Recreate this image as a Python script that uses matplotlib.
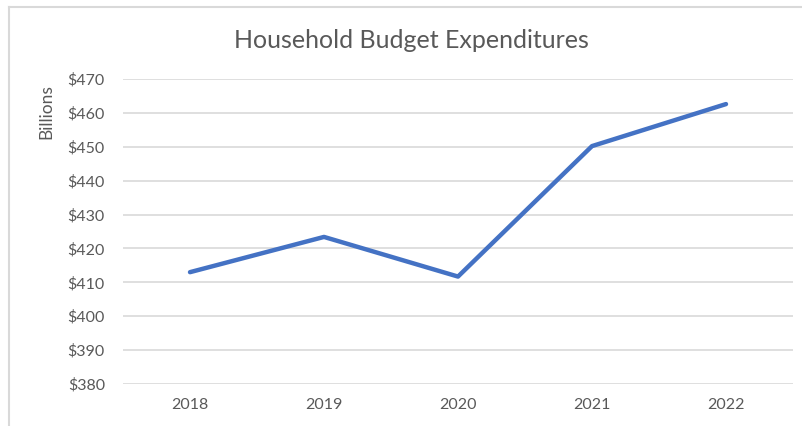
import matplotlib
matplotlib.use("Agg")
import matplotlib.pyplot as plt
from matplotlib.lines import Line2D
from matplotlib.ticker import FuncFormatter

YEARS = ["2018", "2019", "2020", "2021", "2022"]
SPENDING = [413.0, 423.4, 411.7, 450.2, 462.6]   # billions

W, H = 803, 426
TEXT = "#595959"
GRID = "#D9D9D9"
BLUE = "#4472C4"

plt.rcParams["font.family"] = ["Lato", "DejaVu Sans"]

fig = plt.figure(figsize=(W / 100, H / 100), dpi=100)
ax = fig.add_axes([123 / W, 1 - 384 / H, (793 - 123) / W, (384 - 79) / H])

x = list(range(len(YEARS)))
ax.plot(x, SPENDING, color=BLUE, linewidth=3.2, solid_capstyle="round",
        solid_joinstyle="round", zorder=3)

ax.set_xlim(-0.5, len(YEARS) - 0.5)
ax.set_ylim(380, 470)
ax.set_yticks(range(380, 471, 10))
ax.yaxis.set_major_formatter(FuncFormatter(lambda v, _: f"${v:.0f}"))
ax.set_xticks(x)
ax.set_xticklabels(YEARS)

ax.grid(axis="y", color=GRID, linewidth=1.2)
ax.set_axisbelow(True)
for s in ax.spines.values():
    s.set_visible(False)
ax.tick_params(length=0, labelsize=11.5, colors=TEXT)
ax.tick_params(axis="y", pad=13)
ax.tick_params(axis="x", pad=10)

# axis title sits near the top of the axis, like Excel's default
fig.text(46 / W, 1 - 112 / H, "Billions", rotation=90, ha="center", va="center",
         fontsize=12.5, color=TEXT)
fig.text(411 / W, 1 - 41 / H, "Household Budget Expenditures", ha="center",
         va="center", fontsize=18, color=TEXT)

# chart-area frame (only top and left edges visible in the crop)
fig.add_artist(Line2D([8.5 / W, 8.5 / W], [1 - 6.5 / H, 0], transform=fig.transFigure,
                      color=GRID, linewidth=1.5))
fig.add_artist(Line2D([8.5 / W, 1], [1 - 6.5 / H, 1 - 6.5 / H], transform=fig.transFigure,
                      color=GRID, linewidth=1.5))

fig.savefig("out.png", dpi=100)
